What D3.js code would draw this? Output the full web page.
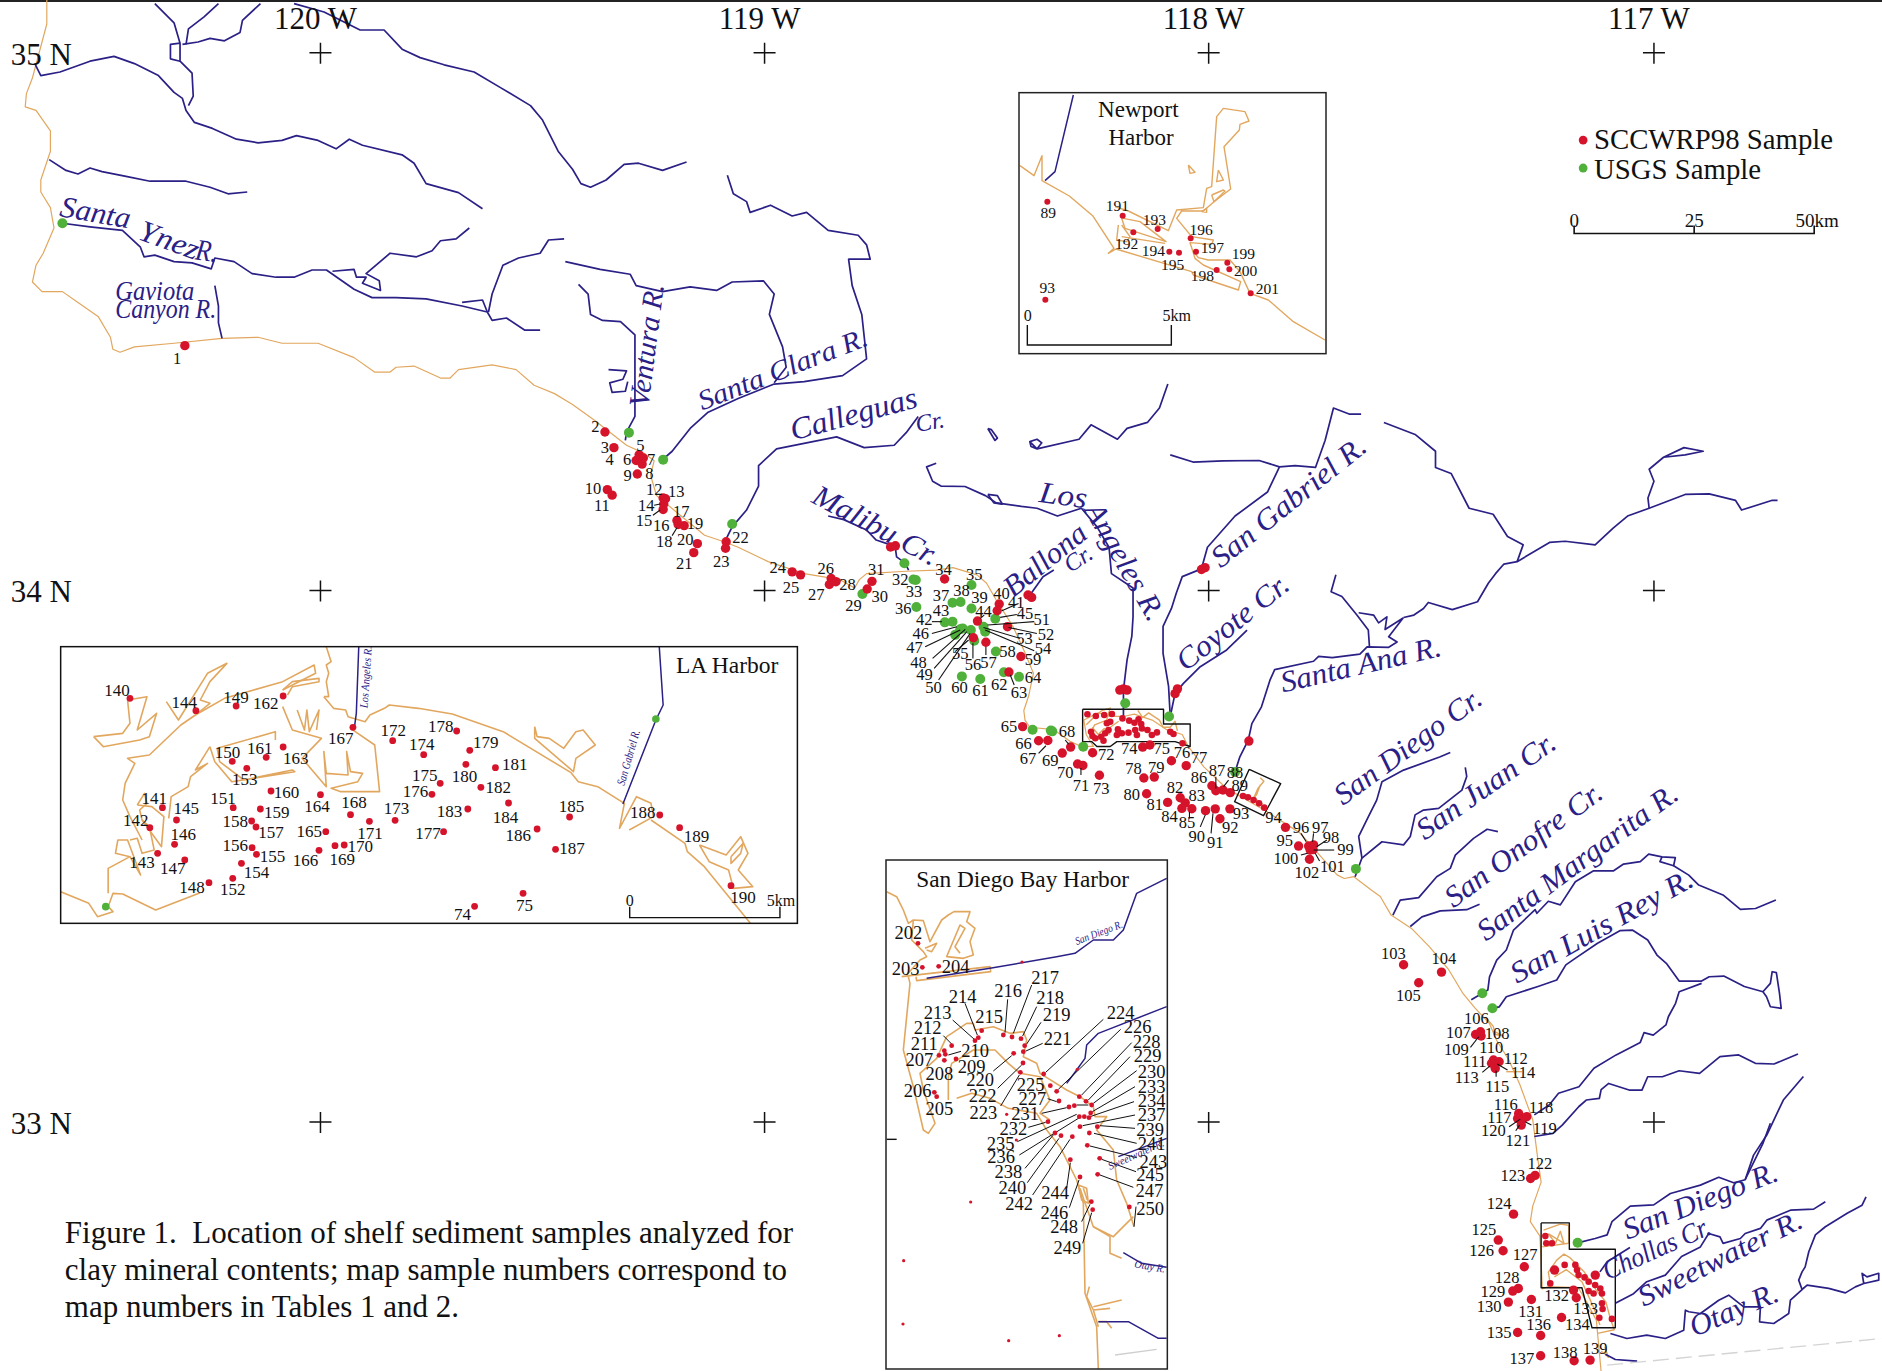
<!DOCTYPE html>
<html>
<head>
<meta charset="utf-8">
<title>Figure 1</title>
<script src="https://cdn.jsdelivr.net/npm/d3@7"></script>
<style>
html,body{margin:0;padding:0;background:#fff;}
svg{display:block;}
text{font-family:"Liberation Serif","Times New Roman",serif;fill:#111;white-space:pre;}
</style>
</head>
<body>
<svg id="chart"></svg>
<script>
// sheet grid: 1 unit = 250 m on the main map (the 50 km bar spans 200 units)
const lonTicks = [-120, -119, -118, -117];
const lonGrid = [267, 637, 1007, 1378];
const latTicks = [35, 34, 33];
const latGrid = [44, 492, 935];

const coast = [[39,0],[39,20],[27,65],[22,78],[21,89],[30,92],[42,109],[42,126],[34,150],[34,160],[42,173],[45,190],[36,211],[30,221],[27,235],[35,243],[52,243],[65,252],[82,264],[92,281],[94,291],[100,293.5],[112,289],[145,286],[185,282],[215,281],[235,286],[265,286],[295,298],[312,310],[325,310],[330,306],[345,305],[367,315],[375,315],[382,308],[410,304],[430,308],[445,321],[462,328],[477,337],[495,350],[522,371],[537,378],[545,384],[542,396],[547,413],[570,432],[587,446],[602,451],[615,456],[640,468],[670,478],[700,483],[712,490],[716,483],[722,478],[755,476],[780,475],[794,473],[814,479],[822,486],[830,500],[844,522],[854,544],[861,561],[857,580],[853,592],[854,600],[858,606],[878,608],[892,618],[901,622],[911,622],[905,612],[903,600],[915,594],[925,597],[936,597],[945,595],[960,600],[972,608],[985,612],[990,622],[1003,639],[1022,657],[1055,676],[1083,694],[1114,729],[1120,732],[1128,730.5],[1143,742],[1150,747],[1159,762.5],[1176,773.6],[1191,789],[1207,808],[1219,828],[1229,840],[1241,853],[1247,867],[1257,883],[1266,903],[1277,933],[1281,964],[1284,985],[1277,1005],[1275,1018],[1283,1030],[1285,1074],[1290,1072],[1315,1073],[1322,1085],[1330,1100],[1331,1111],[1334,1143]];
const coastDetail = [
  [[905,604],[911,598],[918,592],[925,590],[922,600],[912,604],[908,612],[915,616],[925,606],[932,601]],
  [[925,612],[920,607],[915,612],[910,606]],
  [[948,592],[952,598],[957,594],[966,600],[969,606],[975,606],[979,601],[981,609]],
  [[1050,648],[1053,651],[1048,657],[1045,664],[1043,667],[1047,662],[1050,654]],
  [[1035,663],[1045,665],[1052,670]],
  [[1286,1025],[1300,1020],[1307,1021],[1307,1036]],
  [[1290,1028],[1296,1036],[1300,1026],[1303,1036],[1290,1028]],
  [[1285,1039],[1307,1036]],
  [[1292,1072],[1290,1060],[1297,1050],[1303,1045],[1308,1048],[1320,1060],[1330,1075],[1338,1085],[1342,1100],[1345,1108],[1331,1111]],
  [[1295,1064],[1305,1058],[1318,1068],[1328,1090],[1333,1104]],
  [[1337,1122],[1340,1131],[1337,1128],[1334,1126]],
  [[1238,848],[1244,855],[1246,862],[1252,863],[1244,859]],
  [[1255,893],[1268,893]]
];

const riverCuyama = [[129,3],[145,19],[150,36],[150,51],[160,61],[161,80],[157,88]];
const riverCuyamaLoop = [[150,36],[142,37],[142,49],[150,51]];
const riverSisquoc = [[29,53],[34,63],[50,60],[75,51],[95,47],[112,53],[132,63],[145,77],[152,82],[155,92],[162,102],[177,107],[197,116],[215,119],[235,117],[247,113],[265,117],[280,124],[291,116],[302,121],[335,129],[345,136],[355,153],[382,160.5],[402,174]];
const riverTopA = [[182,3],[170,14],[157,24],[155,37]];
const riverTopB = [[217,3],[202,17],[200,27],[187,34],[175,32],[165,35],[152,37]];
const riverCarrizo = [[245,3],[270,10],[290,20],[300,25],[320,25],[335,41],[350,48],[370,54],[395,60],[417,73],[442,88],[452,100],[465,126],[477,141],[484,153],[492,156],[505,150],[520,137],[532,136],[552,142],[572,135]];
const riverUpperYnez = [[41,133],[55,142],[65,145],[75,140],[85,143],[105,147],[125,151],[155,151],[175,156],[190,161.5],[206,160]];
const riverYnez = [[52,186],[75,189],[102,192],[117,206],[120,214],[129,212.6],[145,218],[160,219],[176,224],[179,215],[195,218],[210,228],[230,231],[245,231],[260,225],[272,225],[295,241],[310,248],[330,248],[355,249],[385,255],[406,260],[410,267],[422,265],[437,275],[450,275]];
const riverYnezB = [[277,226],[295,224.5],[297,231],[305,231],[302,236],[317,242],[316,234],[305,228],[325,211],[347,214],[360,209],[367,200.6],[380,199],[391,190]];
const riverYnezC = [[407,260],[410,245],[419,221],[432,215],[450,211],[457,200],[470,199]];
const riverYnezD = [[385,252],[402,250],[406,260]];
const riverGaviota = [[179,238],[182,255],[182,269],[185,282]];
const riverVentura = [[482,237],[490,245],[492,262],[502,267],[517,268],[529,279],[529,306],[529,347],[522,360],[521,367]];
const lakeCasitas = [[507,308],[522,309],[519,316],[508,319],[510,327],[521,326],[523,318]];
const riverClara = [[552,383],[560,376],[575,357],[590,343.5],[615,332],[645,320],[670,318],[702,313],[722,299],[718,262],[710,238],[707,216],[725,216],[722,204],[715,196],[690,192],[672,177],[660,180],[642,171],[625,177],[622,168],[611,161.5],[606,146]];
const riverClaraB = [[645,319],[655,306],[652,289],[641,262],[645,245],[636,234],[610,235],[597,242],[575,239],[552,243],[530,238],[525,228.5],[500,224.5],[471,218]];
const riverCalleguas = [[605,449],[610,439],[622,425],[632,405],[632,388],[647,374],[697,364],[720,373],[745,371],[755,360.5],[765,347]];
const riverLA = [[780,386],[772,389],[777,401],[784,405],[804,405.4],[821,413],[830,419],[851,422],[864,423.5],[881,430],[901,423.5],[914,439],[924,456],[926,478],[944,490],[944,514],[943,530],[939,550],[936,575],[936,597]];
const riverLALoop = [[823,412],[831,413],[835,420],[828,419],[823,412]];
const pondUpper = [[823,357],[826,358],[831,365],[829,367],[823,357]];
const riverPacoima = [[858,368],[864,366],[868,369],[864,374],[859,372],[858,368],[864,374],[899,366],[909,354],[931,366],[939,357],[956,352],[966,340],[973,320]];
const riverMalibu = [[690,430],[703,433],[722,441.6],[730,450],[739,453],[746,457],[747,464],[754,469],[757,475]];
const riverBallona = [[858,496],[869,480.5],[878,475]];
const riverGabriel = [[975,597],[973.6,572],[969,544.4],[969,522],[976,507],[980,494.4],[985,480.5],[1001,474],[1006,456],[1029,430],[1056,410],[1066,389],[1079,388],[1096,389.5],[1104,367],[1111,340],[1124,345],[1134,345]];
const riverGabrielB = [[975,379],[994,385],[1019,384],[1049,383.7],[1066,389]];
const riverCoyote = [[975,597],[979,577.7],[986,569.4],[1000,555.5],[1022,541.6],[1039,525]];
const riverAna = [[1029,643],[1033,630.6],[1040,616.7],[1043,603],[1051,589],[1058,567],[1062,558],[1094.4,551],[1098.6,547],[1110,548],[1133,545],[1139,539],[1157,539.4],[1164,535],[1157,530.6],[1169,515],[1154,524.5],[1155.5,514],[1148.6,519],[1144.4,512.5],[1132,510.6]];
const riverAnaB = [[1113,479],[1109,493],[1118,497],[1130.5,512.5],[1140,525],[1141,539]];
const riverAnaC = [[1169.4,514.5],[1178,512.5],[1186,507],[1190,502],[1210,508],[1231,501.4],[1240,486],[1246,478],[1253,470],[1264,468],[1291,452],[1304,451],[1329,454],[1344,440],[1356,430],[1374,423.5],[1404,412],[1424,411.5],[1446,417],[1451,425],[1476,417],[1481,417]];
const riverAnaD = [[1374,423.5],[1373,415],[1378,401],[1374,391],[1386,381],[1403,373],[1419,376],[1404,379],[1386,381]];
const riverAnaE = [[1153,352],[1179,362],[1196,376],[1196,389.5],[1209,394.5],[1224,423.5],[1244,428.5],[1256,447],[1269,454],[1264,468]];
const riverDiegoCr = [[1129,730.6],[1134.7,715],[1132,697],[1140,680.6],[1147,666.7],[1151.4,651.4],[1169.4,641.7],[1200,630.6],[1208.3,627]];
const riverJuan = [[1134.7,715],[1151.4,701.4],[1169.4,704],[1175,697],[1179,679],[1186,675],[1198.6,673.6],[1218,658.4],[1222,647],[1220.8,639.5]];
const riverOnofre = [[1160.5,762.5],[1166.6,750],[1182,748],[1197,730.6],[1208.3,723.6],[1212.5,712.5],[1227.7,698.6],[1239,691],[1248,693]];
const riverMateo = [[1175,772],[1184.7,764],[1200,759],[1222,758],[1232.7,753.4]];
const riverMargarita = [[1225.8,833],[1239.6,825],[1241,814],[1247,800],[1255,791.6],[1261,775],[1279,758],[1280.5,761],[1290,751],[1300,754],[1312.5,734.7],[1327.7,725.6],[1344.4,725.6],[1352.7,720],[1366.6,718],[1373.6,711.7],[1384.7,714],[1395.8,714.7],[1394.4,721.4],[1407,729.2],[1415.3,737.5],[1436,746],[1450,757.8],[1462.6,757],[1479.6,750]];
const riverMargaritaLoop = [[1384.7,714],[1383,718],[1394.4,721.4]];
const riverLuisRey = [[1243.4,840.2],[1249,839],[1255,830.5],[1281.4,822],[1297,816.6],[1304.6,804],[1312.4,798.6],[1331,786],[1349.6,775.5],[1360,775],[1372.8,783.3],[1380.5,795.8],[1388.3,802.7],[1399,817.5],[1417.7,817.5],[1424,813.9],[1436.2,813.3],[1453.3,822],[1468.8,826.4],[1475,819.4],[1476.5,809.7],[1480,810.5],[1482.6,827.7],[1484,840.2],[1475,838.9],[1471.8,830.5],[1468.8,826.4]];
const riverLuisReyB = [[1417.7,819.4],[1399,826.4],[1396,836],[1390,847.2],[1388,854],[1377.4,862.5],[1369.7,860.5],[1366.6,868.6],[1346.5,879],[1328,890.2],[1315.5,905.5],[1298.5,911],[1290.7,920.8],[1278.3,929]];
const riverEscondido = [[1278.3,947],[1293.8,944.4],[1301.6,937.5],[1315.5,922],[1321.6,916.6],[1332.5,915.3],[1334,908],[1340.3,902.8],[1357.3,908.3],[1368,908.3],[1372.8,897.2],[1385,897.2],[1399,892.2],[1416,894.4],[1433,880.5],[1448.6,879],[1462.5,886],[1478,886.6],[1498,878.3]];
const riverDiego = [[1314.4,1035.6],[1329,1032],[1339,1029],[1343,1018],[1358.3,1005],[1377.8,1004],[1391.7,994.5],[1416.7,987.5],[1432,981],[1444.4,985.6],[1454,983],[1461,962.5],[1472,945.8],[1485.8,916.6],[1502.5,897]];
const riverDiegoB = [[1454,983],[1468.7,953],[1475,936]];
const riverChollas = [[1333,1059.8],[1339,1051.4],[1358,1039.5]];
const riverSweetwater = [[1345.8,1086],[1361,1078],[1372,1068],[1387.5,1062.5],[1401,1047],[1416.7,1039],[1423.6,1027.8],[1433,1030.6],[1435.6,1036],[1450,1032],[1454,1027.8],[1466.7,1023.6],[1472,1016.7],[1491.7,1008.4],[1511,1007.5],[1520.8,1001.4]];
const riverOtay = [[1341.7,1111.2],[1355.5,1115.3],[1372,1112.5],[1387.5,1115.3],[1402.8,1108.4],[1404.2,1091.7],[1407,1093],[1416.7,1094.5],[1432,1083.4],[1440.3,1079.2],[1452.8,1089],[1466.7,1089],[1466,1101.4],[1477.8,1102.8],[1490.3,1094.5],[1491.7,1083.4],[1501.4,1074.5],[1498.6,1066.7],[1501.4,1059.8],[1504,1055.6],[1507,1043],[1512.5,1029],[1520.8,1022.2],[1539,1011],[1551.4,1004.2],[1554.7,997.3]];
const riverOtayB = [[1501.4,1074.5],[1505.6,1070.9],[1523.6,1073.6],[1537.5,1077.3],[1545.8,1072.3],[1552.8,1069.5],[1551.4,1061],[1555.5,1064],[1565.3,1061],[1565.3,1066.7],[1552.8,1069.5]];
const riverTijuana = [[1337.5,1128.4],[1345.8,1132.8],[1364,1134.2]];
const borderLine = [[1339,1137.5],[1568,1115.3]];

// text, grid x, grid y of baseline start, rotation, px size, px length
const riverLabels = [
  ["Santa",49,180,10,30,71],["Ynez",114,199,20,30,62],["R.",162,216,8,30,22],
  ["Gaviota",96,250,0,27,79],["Canyon R.",96,264.6,0,27,101],
  ["Ventura R.",540,340,-82.7,29,124],["Santa Clara R.",585,342,-21.4,28,180],
  ["Calleguas",661,367,-15,31,130],["Cr.",764,360,-10,24,29],
  ["Malibu Cr.",675,418,28,30,138],["Ballona",844,498.6,-39,30,98],["Cr.",891.7,477.7,-33,24,29],
  ["Los",865,418,8,30,48],["Angeles R.",903,425,60,30,131],
  ["San Gabriel R.",1017,474,-38.8,30,190],["Coyote Cr.",988,560,-38.5,30,135],
  ["Santa Ana R.",1069,577,-13,30,164],["San Diego Cr.",1119,671.7,-36.2,30,175],
  ["San Juan Cr.",1187,700.5,-35,30,163],["San Onofre Cr.",1211,757,-36.4,30,188],
  ["Santa Margarita R.",1238,784.7,-36.5,30,242],["San Luis Rey R.",1264,820,-29,30,204],
  ["San Diego R.",1356,1033,-21.4,30,164],["Chollas Cr.",1339.5,1066.7,-24,28,115],
  ["Sweetwater R.",1369.4,1089,-26.5,29,180],["Otay R.",1411.7,1114,-23,30,94]
];

const sccwrpSites = [[154,288],[504,360],[511.5,373],[532.5,379],[530,383.7],[536,381.6],[535,386.7],[531,395],[506,408],[510,412.6],[552.5,415],[554.5,415.6],[553,420],[552.5,424.5],[564,433.7],[565,437],[570,438],[581,453],[578,460.5],[605,451.4],[604.5,456.8],[660,476.5],[667,479],[692.5,482],[691,487],[696.5,484.7],[722.5,490.8],[726.5,484.4],[742,455.8],[746,454.8],[787,482.5],[832.5,503.3],[830.8,508.9],[856.5,495.8],[859.5,497.8],[814.4,517.5],[839.4,522.2],[811,531.4],[821.4,535.2],[850.6,547],[840.6,560],[852,605.5],[865.3,617.2],[873,617],[892,622.5],[885,627.5],[897.8,636.6],[902.2,637.8],[910.3,627.2],[916,646],[952,622.5],[958,620.8],[976,633.9],[988.3,638],[953,648.3],[961.7,647.5],[955.3,661.4],[972.8,668.6],[983.3,664.7],[987.5,669],[984.7,673.6],[993,673.9],[1009.7,654.7],[1013,658.9],[1018.9,658.3],[1025,660.5],[1004.4,675.5],[1012.5,674],[1016.4,682.2],[1024.7,674],[1040.5,617.5],[1071,689.4],[1081.9,705],[1090.3,705],[1094.4,704],[1091.6,708.3],[1094,708],[1091,716],[936,574],[933,575],[939,575],[979,578],[981,574],[1001,474.5],[1004,473],[1169.4,803.9],[1201,810],[1182,818.9],[1229.4,862],[1233.5,859.7],[1234,863.3],[1244.3,883.3],[1249,884.7],[1242.7,886],[1245.8,890.3],[1265.3,927.8],[1272,930.5],[1264.4,932],[1267.5,937.5],[1269,932],[1275.2,982],[1279,979.4],[1261,1011.7],[1248.3,1033.3],[1252.3,1042.2],[1270,1055.5],[1265,1073.6],[1260.4,1075.8],[1256.7,1085],[1275.9,1082.8],[1301,1097.8],[1264.4,1110.3],[1283.6,1112.8],[1283.6,1129.7],[1311.5,1133.9],[1324.8,1133.3],[1295.2,1058.3],[1329.1,1062.5],[1311,1075],[1313.3,1081.4]];
const sccwrpBoxSites = [[906,595.2],[913,596.6],[920,595.8],[926.4,595],[909,609.7],[910.2,613.3],[912.5,615.2],[919.4,617.2],[917.5,613.9],[920.8,611],[923.6,608.3],[922.2,602.7],[925,601.4],[931.4,607.8],[930.5,612.5],[934.7,611],[940.2,610.5],[935.2,598.6],[940.8,600.5],[945.2,602.2],[948.6,599.4],[950.8,603.3],[945.8,608.3],[951.4,607],[956,608.3],[947.2,612.5],[959.7,612.5],[963.9,610.3],[975,609.7],[977.7,611.6],[985.2,619.4],[1035.6,663.3],[1039.7,664.4],[1044.4,666.7],[1049,669.4],[1053.3,673],[1287.5,1030],[1288.3,1036],[1293,1036],[1291.6,1069.4],[1303.6,1054],[1312.5,1054],[1313.9,1058.3],[1315.2,1062.5],[1320.2,1064.4],[1323.6,1068],[1329,1070.8],[1333.3,1073.6],[1334.7,1077.8],[1327.7,1077.8],[1323.6,1075.8],[1334.7,1086],[1335.2,1090.8],[1332.5,1098],[1343,1099]];
const usgsSites = [[524,360.5],[552.5,383],[610,436.7],[718.5,495],[753.5,469.4],[761,482.8],[763,483.3],[763.5,505.8],[809.4,487.5],[793.6,502.2],[800.3,501.6],[809.4,507],[787.2,518.6],[793.6,518],[829.2,515.5],[800,524.4],[802,523.6],[795.8,529],[808.9,525],[811.7,533.9],[819.4,522.2],[820.8,526.4],[829.7,542.8],[801.4,563.6],[816.7,565.8],[836.4,560.2],[849,564],[860.3,608],[876.7,609.4],[875.5,608.8],[902.5,622.2],[937.5,586],[974,597],[1029,643.3],[1129.7,724],[1235,827.7],[1243.4,840.2],[1314.4,1035.6],[52,186]];

const mapLabels = [[1,147.5,298.6],[2,496,355.5],[3,504,372.4],[4,508,383],[5,533.5,371],[6,522.5,382.6],[7,542.5,382.6],[8,541,394],[9,523,396.3],[10,494,406.5],[11,501.5,421],[12,545,408],[13,563.5,409],[14,538.5,421],[15,536.5,433.7],[16,551,437.8],[17,567.5,426],[18,553.5,450.7],[19,579,436],[20,571,449.7],[21,570,469.4],[22,617,447.3],[23,601,467.7],[24,648,472.8],[25,659,489],[26,688,473.8],[27,680,495],[28,706,487],[29,711,504.4],[30,733,496.6],[31,730,474.5],[32,750,482.3],[33,761.5,492.5],[34,786,474.4],[35,811.7,478.3],[36,752.5,506.8],[37,784,495.8],[38,801,492.2],[39,816,498],[40,834.4,494.7],[41,846.7,502.2],[42,770,515.8],[43,784,508.3],[44,819.4,508.9],[45,854,511],[46,767.2,527.8],[47,762,539.4],[48,765.3,552.2],[49,770.3,561.6],[50,777.8,572.8],[51,868,516],[52,871.4,528.6],[53,853.6,532],[54,869,540.2],[55,800,544.4],[56,810.6,553.6],[57,823.6,552.2],[58,839.4,542.8],[59,860.6,549.4],[60,799.4,572.8],[61,817,575.5],[62,832.5,570],[63,849,577],[64,860.6,563.9],[65,840.6,605.5],[66,852.8,618.9],[67,856.4,632],[68,888.9,609.7],[69,875,633.3],[70,887.5,643.6],[71,900.6,654.2],[72,921.7,628.6],[73,917.5,657],[74,940.8,623.6],[75,968,623.6],[76,984.7,626.4],[77,999,631],[78,944.4,640.5],[79,963.3,638.9],[80,943,661.6],[81,962,670],[82,979,656],[83,997,663],[84,974.4,680],[85,989,685.5],[86,999,647.8],[87,1013.9,641.7],[88,1029,643.6],[89,1033,654],[90,997,697.2],[91,1012.5,702],[92,1025,689.4],[93,1034,677.7],[94,1061,681],[95,1070.3,700.5],[96,1083.9,689],[97,1100,689],[98,1108.9,698],[99,1121,707.8],[100,1071.4,715.3],[101,1110,722],[102,1088.9,726.4],[103,1161,793.9],[104,1203,798.6],[105,1173.4,829],[106,1230,848.6],[107,1215,860.5],[108,1247.4,861],[109,1213.3,874.4],[110,1242.4,872.8],[111,1228.8,883.9],[112,1262.9,882],[113,1222,897.8],[114,1269,893.6],[115,1247.4,904.7],[116,1254.5,920.5],[117,1249.2,931],[118,1284,922.2],[119,1287,939.7],[120,1244.3,941.6],[121,1264.7,950.5],[122,1283,968.9],[123,1260.4,979],[124,1249,1002.8],[125,1236.2,1024.4],[126,1234.4,1042],[127,1270.6,1045.5],[128,1255.7,1063.9],[129,1243.7,1075.8],[130,1240.6,1088.6],[131,1275.2,1092.2],[132,1297,1079.2],[133,1321,1090.3],[134,1314.3,1103.6],[135,1249,1109.7],[136,1282,1103.6],[137,1268,1131.4],[138,1304,1126.4],[139,1329,1123.6]];
const mapLeaders = [[776.4,518,784.7,518],[833.3,514.4,847.2,512],[776.4,527.8,797.2,522.2],[770.8,538.9,800,525],[777,548.6,804.2,524.4],[778.3,557,805.6,526.4],[782,566.6,808.3,527.8],[822.8,520.8,861.7,518],[840.3,522.8,863.9,527.8],[819.4,522.8,850,532],[820.8,525,861.7,542.2],[807,533.3,795.8,543],[810.6,536,810.6,548.6],[821.4,538.9,821.4,545.8],[834.7,508.9,848.6,502.8],[816.7,515.3,820,512.5],[841.7,562.5,845,570.8],[865.3,627.7,871.4,621.4],[887.5,616.6,890.3,620],[900.6,640,900.6,645.8],[991,676.4,991,682],[1013,647.2,1013,657],[1019.4,655.5,1023.6,650],[1000,689,1004.2,679],[1009,694.4,1010.6,677.7],[1083.9,694.4,1088.3,701.4],[1094.4,694.4,1093.6,701.4],[1105.5,700,1097,705.5],[1111.6,708.3,1094.4,708.3],[1083.9,712.5,1089.4,711],[1099.4,717.5,1095.8,711],[1225.1,872.8,1232,863.9],[1235,893.6,1241.2,888.3],[1256,891.6,1247.4,886.6],[1246.5,897.2,1246.5,892.2],[1257.3,938.9,1266.6,932.5],[1275.9,937.5,1270.6,934.7],[1262.9,942.2,1266,937.5],[545,421,550,420],[544,429.3,550,425],[560,446.3,564,439.8]];
const harborOutlineLA = [[902,591],[969.4,591],[969.4,603.3],[991.6,603.3],[991.6,622],[979,618],[930.5,618],[925,622],[913.9,622],[909.7,618],[902,618],[902,591]];
const harborOutlineNewport = [[1040.8,641],[1067,653],[1052.7,679.7],[1028.6,668],[1040.8,641]];
const harborOutlineSD = [[1284,1019],[1307.5,1019],[1307.5,1041],[1345.8,1041],[1345.8,1106.4],[1326.4,1106.4],[1318,1073],[1284,1073],[1284,1019]];
const scaleBarKm = [0, 25, 50];
const scaleBarLabels = ["0", "25", "50km"];
const captionLines = ["Figure 1.  Location of shelf sediment samples analyzed for","clay mineral contents; map sample numbers correspond to","map numbers in Tables 1 and 2."];

// LA Harbor inset, digitised on its own frame
const laShore = [
  [[565,170],[585,205],[610,210],[615,230],[650,245],[660,225],[690,205],[700,195],[760,205],[830,222],[935,275],[1075,398],[1090,425],[1130,440],[1185,490],[1175,565],[1210,470],[1240,490],[1245,530],[1195,570]],
  [[1240,540],[1310,610],[1315,635],[1350,680],[1445,850]],
  [[1000,260],[1005,290],[1030,295],[1060,325],[1085,275],[1100,270],[1125,315],[1085,355],[1080,395],[1000,295],[1000,260]],
  [[1340,615],[1395,645],[1425,590],[1440,640],[1420,690],[1450,740],[1410,745],[1400,690],[1360,665],[1340,615]],
  [[1405,650],[1430,610],[1425,640],[1405,670],[1405,650]],
  [[22,755],[80,790],[98,830],[130,815],[120,800],[130,760],[150,762],[218,810],[310,758]],
  [[120,760],[120,685],[165,650],[187,705],[160,600],[140,600],[135,640],[165,650]],
  [[165,600],[180,595],[190,640],[215,630],[205,560],[190,540]],
  [[150,480],[155,430],[175,370],[160,355],[205,345],[270,255],[300,225],[360,175],[480,125],[545,75],[548,100],[480,150]],
  [[150,480],[165,530],[190,600]],
  [[90,290],[150,280],[165,250],[160,180],[200,170],[180,270],[220,220],[205,290],[185,300],[110,320],[90,290]],
  [[240,185],[265,240],[325,100],[365,70],[330,125],[310,180],[330,190],[300,225]],
  [[330,320],[340,365],[375,425],[505,395],[500,390],[400,420],[350,365],[345,325],[465,275],[465,300]],
  [[330,320],[300,390],[325,370],[290,410],[285,440],[250,470],[245,535]],
  [[480,200],[500,270],[560,295],[520,355],[570,440],[565,335],[570,400],[615,405],[612,335],[620,395],[645,400],[635,425],[580,445],[600,455],[680,455],[670,315],[620,265]],
  [[510,210],[525,270],[530,210],[535,275],[555,210],[550,270]],
  [[570,20],[580,65],[570,75],[575,100],[570,125],[575,170],[565,170]],
  [[480,150],[500,125],[555,115],[555,125],[500,140],[490,165]],
  [[180,495],[195,460],[200,490],[185,510],[190,540],[230,620],[235,530],[210,500],[180,495]]
];
const laRivers = [[[637,20],[632,220],[628,262]],[[1257,20],[1265,195],[1250,240],[1182,492]]];
const laSites = [[165,175],[232,503],[206,563],[222,640],[301,212],[261,540],[257,613],[278,660],[328,728],[384,198],[376,364],[378,503],[377,715],[406,385],[395,670],[426,643],[417,623],[425,561],[416,543],[434,507],[456,453],[446,352],[481,168],[481,321],[558,464],[569,575],[555,631],[625,262],[620,524],[588,617],[607,615],[659,544],[707,302],[712,541],[771,344],[805,430],[788,463],[812,575],[839,273],[866,331],[858,373],[919,383],[889,442],[862,507],[946,489],[1072,531],[1005,567],[1043,628],[1258,525],[1299,563],[1405,737],[876,799],[976,760]];
const laUsgs = [[1250,237],[115,800]];
const laLabels = [[140,138,150],[141,215,473],[142,177,540],[143,190,665],[144,277,185],[145,281,503],[146,275,583],[147,253,685],[148,293,740],[149,384,170],[150,366,335],[151,357,473],[152,377,748],[153,402,418],[154,426,695],[155,459,647],[156,382,615],[157,456,575],[158,382,543],[159,468,515],[160,488,455],[161,433,323],[162,445,190],[163,507,355],[164,551,497],[165,535,573],[166,527,660],[167,600,295],[168,627,485],[169,603,658],[170,640,617],[171,660,578],[172,708,270],[173,715,505],[174,767,312],[175,773,404],[176,754,452],[177,780,580],[178,806,258],[179,899,305],[180,855,408],[181,959,373],[182,925,440],[183,824,512],[184,940,530],[185,1076,497],[186,966,585],[187,1077,625],[188,1223,515],[189,1334,587],[190,1430,770],[74,851,823],[75,979,795]];

// Newport Harbor inset
const newportShore = [
  [[30,242],[72,272],[96,212],[96,287],[178,333],[248,392],[312,490],[295,505],[318,492],[545,560],[550,570],[685,615],[692,590],[580,540],[555,520],[548,497]],
  [[720,625],[775,645],[850,710],[945,765]],
  [[315,365],[355,378],[475,437],[500,375],[580,368],[590,310],[605,305],[620,95],[640,70],[705,80],[717,108],[690,118],[688,135],[642,185],[662,312],[612,350],[580,378],[515,378],[500,400],[545,455],[610,465],[605,478],[540,473],[548,497],[565,518],[595,525],[660,525],[690,560],[720,625]],
  [[340,400],[390,410],[468,470],[345,430],[335,400]],
  [[325,420],[320,465],[350,470],[360,455],[335,420]],
  [[335,455],[465,475]],
  [[535,240],[555,262],[540,265],[535,240]],
  [[625,255],[640,285],[620,290],[625,255]],
  [[605,330],[640,315],[645,318],[612,350],[605,330]],
  [[575,380],[590,370],[590,382],[575,380]]
];
const newportRiver = [[190,30],[135,260],[105,287]];
const newportSites = [[112,350],[106,644],[338,392],[370,442],[443,432],[478,500],[507,503],[542,460],[558,500],[620,555],[652,533],[658,553],[722,625]];
const newportLabels = [[89,115,382],[93,112,607],[191,322,362],[192,350,477],[193,433,403],[194,430,497],[195,488,540],[196,573,433],[197,607,488],[198,577,573],[199,700,505],[200,707,557],[201,772,610]];

// San Diego Bay inset
const sdShore = [
  [[20,95],[50,110],[70,150],[85,190],[100,180],[130,182],[150,245],[185,180],[205,165],[222,155],[270,155],[260,185],[285,205],[270,245],[280,285],[250,295],[200,290],[240,195],[255,205],[225,260],[240,280]],
  [[100,180],[95,240],[130,275],[140,290],[120,300],[80,345]],
  [[135,265],[170,250],[155,275],[140,270]],
  [[65,350],[330,320],[332,335],[110,362],[108,350]],
  [[85,350],[90,370],[75,520],[70,570],[100,680],[130,810],[145,820],[165,790],[130,690],[120,640],[170,595],[200,530],[215,520],[260,490],[280,490],[285,510],[340,500],[390,520],[430,515],[440,540],[430,590],[470,610],[480,640],[560,690],[600,710],[640,740],[645,770],[680,770],[650,810],[700,870],[710,960],[740,1030],[762,1100]],
  [[205,720],[205,650],[215,610],[280,570],[345,570],[385,610],[420,640],[480,650],[510,720],[480,760],[510,780]],
  [[230,715],[275,700],[330,715],[385,745],[470,760],[500,810],[540,860],[590,960],[610,1030],[612,1130],[615,1300],[650,1400],[655,1527]],
  [[612,1020],[640,1100],[690,1130],[690,1180],[725,1195]],
  [[640,1100],[700,1130],[760,1070]],
  [[595,975],[620,985],[625,1030],[605,1020],[595,975]],
  [[600,985],[612,1020]],[[610,985],[622,1020]],
  [[628,1280],[620,1310],[640,1350],[655,1400]],
  [[640,1340],[725,1320]],[[640,1350],[690,1345]],
  [[655,1385],[680,1385],[695,1405]]
];
const sdRivers = [
  [[140,355],[330,325],[530,290],[585,280],[640,240],[700,240],[730,210],[770,100],[860,55]],
  [[560,670],[590,630],[615,595],[620,555],[655,520],[860,440]],
  [[715,890],[860,835]],
  [[730,1178],[785,1210],[860,1222]],
  [[655,1385],[745,1385],[835,1435],[860,1435]]
];
const sdBorder = [[705,1485],[830,1468]];
const sdSites = [[114,250],[127,322],[176,319],[170,710],[163,697],[177,586],[193,601],[228,597],[196,583],[193,572],[215,557],[285,542],[295,533],[305,512],[370,525],[396,531],[423,536],[434,557],[430,575],[401,580],[429,609],[421,637],[491,642],[530,694],[598,710],[618,724],[635,735],[632,759],[627,773],[600,800],[652,800],[628,819],[622,856],[659,895],[653,943],[748,1041],[511,677],[537,723],[567,741],[504,785],[598,770],[613,770],[525,819],[543,827],[577,830],[571,899],[600,951],[634,1025],[638,1049],[583,737]];
const sdOtherSites = [[426,306],[272,1026],[71,1202],[69,1392],[386,1442],[538,1427],[380,763],[409,840],[592,628]];
const sdLabels = [[202,85,217],[203,77,325],[204,227,320],[205,178,745],[206,113,692],[207,118,600],[208,178,640],[209,275,620],[210,285,572],[211,133,550],[212,143,503],[213,173,457],[214,248,410],[215,327,470],[216,384,392],[217,495,352],[218,510,412],[219,530,465],[220,300,660],[221,533,537],[222,308,708],[223,310,758],[224,722,457],[225,452,675],[226,773,500],[227,457,715],[228,800,545],[229,803,587],[230,815,635],[231,435,762],[232,400,807],[233,815,680],[234,815,722],[235,362,850],[236,363,890],[237,815,765],[238,385,935],[239,810,808],[240,397,983],[241,815,852],[242,417,1030],[243,820,905],[244,525,998],[245,810,945],[246,523,1058],[247,808,992],[248,552,1100],[249,562,1163],[250,810,1047]];
const sdLeaders = [[205,585,243,574],[190,527,215,552],[218,480,283,538],[255,430,292,525],[383,418,375,518],[455,375,400,520],[470,440,428,528],[483,487,440,552],[488,550,438,573],[340,633,395,587],[353,685,425,615],[362,738,418,645],[670,478,497,637],[722,508,535,688],[755,548,605,705],[750,590,625,720],[770,632,640,730],[765,680,637,755],[762,725,630,770],[765,765,608,797],[765,805,660,797],[770,850,642,820],[770,893,630,858],[768,935,665,898],[760,982,660,945],[768,1040,762,1100],[503,716,530,725],[485,760,560,743],[445,802,497,787],[412,845,590,763],[418,885,600,772],[435,925,520,825],[442,968,537,835],[458,1005,570,838],[560,985,571,908],[568,1043,597,960],[605,1085,630,1033],[608,1150,635,1058],[590,735,625,735]];

const width = 1882, height = 1371;
const colors = {river: "#2a2085", shore: "#e2a75f", red: "#d5142c", green: "#4fb03a"};

const svg = d3.select("#chart").attr("width", width).attr("height", height);
svg.append("rect").attr("width", width).attr("height", height).attr("fill", "#fff");

const x = d3.scaleLinear().domain([0, 1568]).range([0, width]);
const y = d3.scaleLinear().domain([0, 1142.4]).range([0, height]);
const lonX = d3.scaleLinear().domain(lonTicks).range(lonGrid);
const latY = d3.scaleLinear().domain(latTicks).range(latGrid);

function drawPath(g, pts, sx, sy, color, w) {
    const line = d3.line().x(d => sx(d[0])).y(d => sy(d[1]));
    return g.append("path").attr("d", line(pts)).attr("fill", "none")
        .attr("stroke", color).attr("stroke-width", w).attr("stroke-linejoin", "round");
}
function drawDots(g, pts, sx, sy, color, r) {
    g.selectAll(null).data(pts).enter().append("circle")
        .attr("cx", d => sx(d[0])).attr("cy", d => sy(d[1])).attr("r", r).attr("fill", color);
}
function drawNumbers(g, rows, sx, sy, size) {
    g.selectAll(null).data(rows).enter().append("text")
        .attr("x", d => sx(d[1])).attr("y", d => sy(d[2])).attr("dy", "0.35em")
        .attr("text-anchor", "middle").attr("font-size", size).text(d => d[0]);
}
function drawLeaders(g, rows, sx, sy, w) {
    g.selectAll(null).data(rows).enter().append("line")
        .attr("x1", d => sx(d[0])).attr("y1", d => sy(d[1]))
        .attr("x2", d => sx(d[2])).attr("y2", d => sy(d[3]))
        .attr("stroke", "#111").attr("stroke-width", w);
}
function slanted(g, txt, px, py, angle, size, len) {
    const t = g.append("text").attr("transform", `translate(${px},${py}) rotate(${angle})`)
        .attr("font-style", "italic").attr("font-size", size).style("fill", colors.river).text(txt);
    if (len) t.attr("textLength", len).attr("lengthAdjust", "spacingAndGlyphs");
    return t;
}

// top rule
svg.append("line").attr("x1", 0).attr("x2", width).attr("y1", 1).attr("y2", 1).attr("stroke", "#222").attr("stroke-width", 2);

const mapG = svg.append("g");
drawPath(mapG, coast, x, y, colors.shore, 1.2);
coastDetail.forEach(p => drawPath(mapG, p, x, y, colors.shore, 1.4));

[riverCuyama, riverCuyamaLoop, riverSisquoc, riverTopA, riverTopB, riverCarrizo, riverUpperYnez, riverYnez, riverYnezB, riverYnezC, riverYnezD, riverGaviota, riverVentura, lakeCasitas, riverClara, riverClaraB, riverCalleguas, riverLA, riverLALoop, pondUpper, riverPacoima, riverMalibu, riverBallona, riverGabriel, riverGabrielB, riverCoyote, riverAna, riverAnaB, riverAnaC, riverAnaD, riverAnaE, riverDiegoCr, riverJuan, riverOnofre, riverMateo, riverMargarita, riverMargaritaLoop, riverLuisRey, riverLuisReyB, riverEscondido, riverDiego, riverDiegoB, riverChollas, riverSweetwater, riverOtay, riverOtayB, riverTijuana]
    .forEach(p => drawPath(mapG, p, x, y, colors.river, 1.7));
drawPath(mapG, borderLine, x, y, "#d4d4d4", 1.4).attr("stroke-dasharray", "16,7");

[harborOutlineLA, harborOutlineNewport, harborOutlineSD].forEach(p => drawPath(mapG, p, x, y, "#111", 1.4));

riverLabels.forEach(d => slanted(mapG, d[0], x(d[1]), y(d[2]), d[3], d[4], d[5]));

drawDots(mapG, usgsSites, x, y, colors.green, 5);
drawDots(mapG, sccwrpSites, x, y, colors.red, 4.7);
drawDots(mapG, sccwrpBoxSites, x, y, colors.red, 3.3);
drawLeaders(mapG, mapLeaders, x, y, 1.1);
drawNumbers(mapG, mapLabels, x, y, 16.5);

// graticule
lonTicks.forEach(lon => {
    mapG.append("text").attr("x", x(lonX(lon)) - 5).attr("y", y(24)).attr("text-anchor", "middle")
        .attr("font-size", 31).text(Math.abs(lon) + " W");
});
latTicks.forEach(lat => {
    mapG.append("text").attr("x", x(9)).attr("y", y(latY(lat) + 10)).attr("font-size", 31).text(lat + " N");
    lonTicks.forEach(lon => {
        const cx = x(lonX(lon)), cy = y(latY(lat));
        mapG.append("path").attr("d", `M${cx - 11},${cy}H${cx + 11}M${cx},${cy - 10}V${cy + 11}`)
            .attr("stroke", "#111").attr("stroke-width", 1.5).attr("fill", "none");
    });
});

// legend
const legendRows = [["SCCWRP98 Sample", colors.red, 116.7, 124], ["USGS Sample", colors.green, 140, 149]];
legendRows.forEach(d => {
    svg.append("circle").attr("cx", x(1319)).attr("cy", y(d[2])).attr("r", 4.4).attr("fill", d[1]);
    svg.append("text").attr("x", x(1328)).attr("y", y(d[3])).attr("font-size", 28.8).text(d[0]);
});

// main scale bar
const kmX = d3.scaleLinear().domain([0, 50]).range([x(1311.5), x(1511.5)]);
const barY = y(194.6);
svg.append("path").attr("d", `M${kmX(0)},${barY - 8}V${barY}H${kmX(50)}V${barY - 8}M${kmX(25)},${barY}V${barY - 8}`)
    .attr("fill", "none").attr("stroke", "#111").attr("stroke-width", 1.6);
scaleBarKm.forEach((km, i) => {
    svg.append("text").attr("x", kmX(km) + (i === 2 ? 3 : 0)).attr("y", y(188.8)).attr("text-anchor", "middle")
        .attr("font-size", 19).text(scaleBarLabels[i]);
});

// caption
captionLines.forEach((line, i) => {
    svg.append("text").attr("x", x(54)).attr("y", y(1035.5 + i * 31)).attr("font-size", 31).text(line);
});

// LA Harbor inset
const laX = d3.scaleLinear().domain([0, 1568]).range([50, 810]);
const laY = d3.scaleLinear().domain([0, 900]).range([640, 940]);
const laG = svg.append("g");
const laClip = laG.append("clipPath").attr("id", "laClip");
laClip.append("rect").attr("x", laX(22)).attr("y", laY(20)).attr("width", laX(1542) - laX(22)).attr("height", laY(850) - laY(20));
const laInner = laG.append("g").attr("clip-path", "url(#laClip)");
laShore.forEach(p => drawPath(laInner, p, laX, laY, colors.shore, 1.6));
laRivers.forEach(p => drawPath(laInner, p, laX, laY, colors.river, 1.5));
laG.append("rect").attr("x", laX(22)).attr("y", laY(20)).attr("width", laX(1542) - laX(22)).attr("height", laY(850) - laY(20))
    .attr("fill", "none").attr("stroke", "#111").attr("stroke-width", 1.5);
drawDots(laG, laSites, laX, laY, colors.red, 3.4);
drawDots(laG, laUsgs, laX, laY, colors.green, 3.8);
drawNumbers(laG, laLabels, laX, laY, 17);
laG.append("text").attr("x", laX(1397)).attr("y", laY(100)).attr("text-anchor", "middle").attr("font-size", 23.5).text("LA Harbor");
slanted(laG, "Los Angeles R.", laX(655), laY(205), -86, 11.5, 62);
slanted(laG, "San Gabriel R.", laX(1185), laY(438), -74, 12, 57);
laG.append("path").attr("d", `M${laX(1196)},${laY(800)}V${laY(833)}H${laX(1506)}V${laY(800)}`).attr("fill", "none").attr("stroke", "#111").attr("stroke-width", 1.4);
drawNumbers(laG, [["0", 1196, 780], ["5km", 1508, 780]], laX, laY, 16);

// Newport inset
const nwX = d3.scaleLinear().domain([0, 990]).range([1010, 1340]);
const nwY = d3.scaleLinear().domain([0, 840]).range([85, 365]);
const nwG = svg.append("g");
newportShore.forEach(p => drawPath(nwG, p, nwX, nwY, colors.shore, 1.4));
drawPath(nwG, newportRiver, nwX, nwY, colors.river, 1.5);
nwG.append("rect").attr("x", nwX(27)).attr("y", nwY(23)).attr("width", nwX(948) - nwX(27)).attr("height", nwY(806) - nwY(23))
    .attr("fill", "none").attr("stroke", "#222").attr("stroke-width", 1.5);
drawDots(nwG, newportSites, nwX, nwY, colors.red, 3);
drawNumbers(nwG, newportLabels, nwX, nwY, 15.5);
drawNumbers(nwG, [["Newport", 385, 72], ["Harbor", 393, 157]], nwX, nwY, 23);
nwG.append("path").attr("d", `M${nwX(52)},${nwY(720)}V${nwY(780)}H${nwX(484)}V${nwY(720)}`).attr("fill", "none").attr("stroke", "#111").attr("stroke-width", 1.4);
drawNumbers(nwG, [["0", 53, 690], ["5km", 500, 692]], nwX, nwY, 16);

// San Diego inset
const sdX = d3.scaleLinear().domain([0, 900]).range([880, 1180]);
const sdY = d3.scaleLinear().domain([0, 1533]).range([860, 1371]);
const sdG = svg.append("g");
sdShore.forEach(p => drawPath(sdG, p, sdX, sdY, colors.shore, 1.6));
sdRivers.forEach(p => drawPath(sdG, p, sdX, sdY, colors.river, 1.5));
drawPath(sdG, sdBorder, sdX, sdY, "#cfcfcf", 1.3);
drawLeaders(sdG, [[20, 838, 50, 838]], sdX, sdY, 1.4);
sdG.append("rect").attr("x", sdX(18)).attr("y", sdY(0)).attr("width", sdX(862) - sdX(18)).attr("height", sdY(1527) - sdY(0))
    .attr("fill", "none").attr("stroke", "#222").attr("stroke-width", 1.5);
drawLeaders(sdG, sdLeaders, sdX, sdY, 1);
drawDots(sdG, sdSites, sdX, sdY, colors.red, 2.4);
drawDots(sdG, sdOtherSites, sdX, sdY, colors.red, 1.6);
drawNumbers(sdG, sdLabels, sdX, sdY, 18.5);
drawNumbers(sdG, [["San Diego Bay Harbor", 428, 57]], sdX, sdY, 23.3);
slanted(sdG, "San Diego R.", sdX(590), sdY(255), -21, 11, 50);
slanted(sdG, "Sweetwater R.", sdX(690), sdY(930), -24, 11, 60);
slanted(sdG, "Otay R.", sdX(762), sdY(1222), 10, 11, 31);
</script>
</body>
</html>
